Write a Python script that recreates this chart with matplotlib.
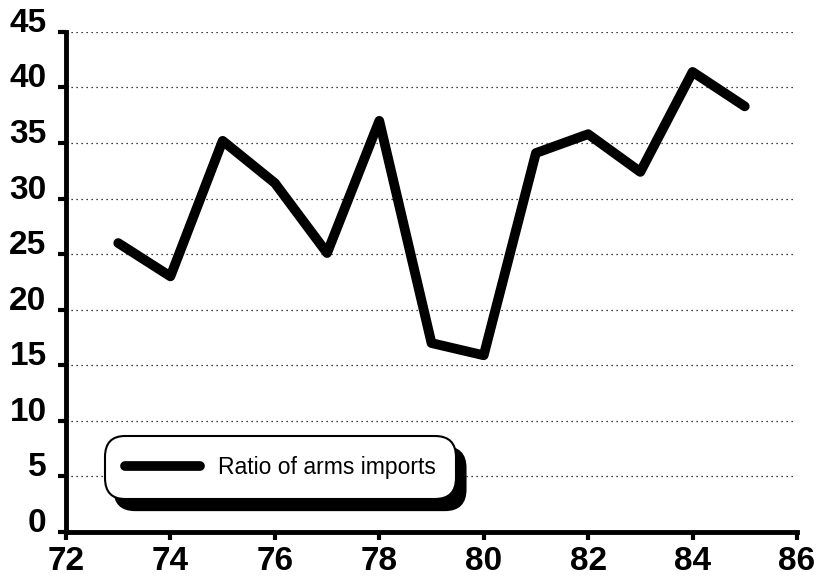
import matplotlib
matplotlib.use("Agg")
import matplotlib.pyplot as plt

years = [73, 74, 75, 76, 77, 78, 79, 80, 81, 82, 83, 84, 85]
ratio = [26.0, 23.0, 35.2, 31.4, 25.1, 37.0, 17.0, 15.9, 34.1, 35.8, 32.4, 41.4, 38.3]
x_ticks = [72, 74, 76, 78, 80, 82, 84, 86]
y_ticks = [0, 5, 10, 15, 20, 25, 30, 35, 40, 45]

plt.rcParams['font.family'] = ['Liberation Sans', 'DejaVu Sans']

fig = plt.figure(figsize=(8.17, 5.77), dpi=100)
ax = fig.add_axes([0.0808, 0.078, 0.8947, 0.8667])

# dotted grid lines
for y in y_ticks[1:]:
    ax.plot([72, 85.95], [y, y], color='black', linestyle=(0, (1, 3)), linewidth=0.9, zorder=1)

ax.plot(years, ratio, color='black', linewidth=7, solid_joinstyle='round',
        solid_capstyle='round', label='Ratio of arms imports', zorder=3)

ax.set_xlim(72, 86)
ax.set_ylim(0, 45)
ax.set_xticks(x_ticks)
ax.set_yticks(y_ticks)
ax.spines['top'].set_visible(False)
ax.spines['right'].set_visible(False)
ax.spines['left'].set_linewidth(3.5)
ax.spines['bottom'].set_linewidth(3.5)
ax.tick_params(axis='both', width=3, length=6, direction='out', labelsize=24)
ax.tick_params(axis='y', pad=8)
ax.tick_params(axis='x', pad=4)
for lab in ax.get_xticklabels() + ax.get_yticklabels():
    lab.set_fontweight('bold')
for lab in ax.get_yticklabels():
    lab.set_verticalalignment('baseline')

leg = ax.legend(loc='lower left', bbox_to_anchor=(0.053, 0.066), fontsize=16.5,
                handlelength=3.27, handletextpad=0.8, borderpad=0.87,
                borderaxespad=0, fancybox=True, framealpha=1, edgecolor='black',
                shadow={'ox': 7, 'oy': -8, 'color': 'black', 'alpha': 1})
leg.get_frame().set_linewidth(1.5)
leg.get_frame().set_boxstyle('round', pad=0.0, rounding_size=0.9)

fig.savefig('out.png', dpi=100)
